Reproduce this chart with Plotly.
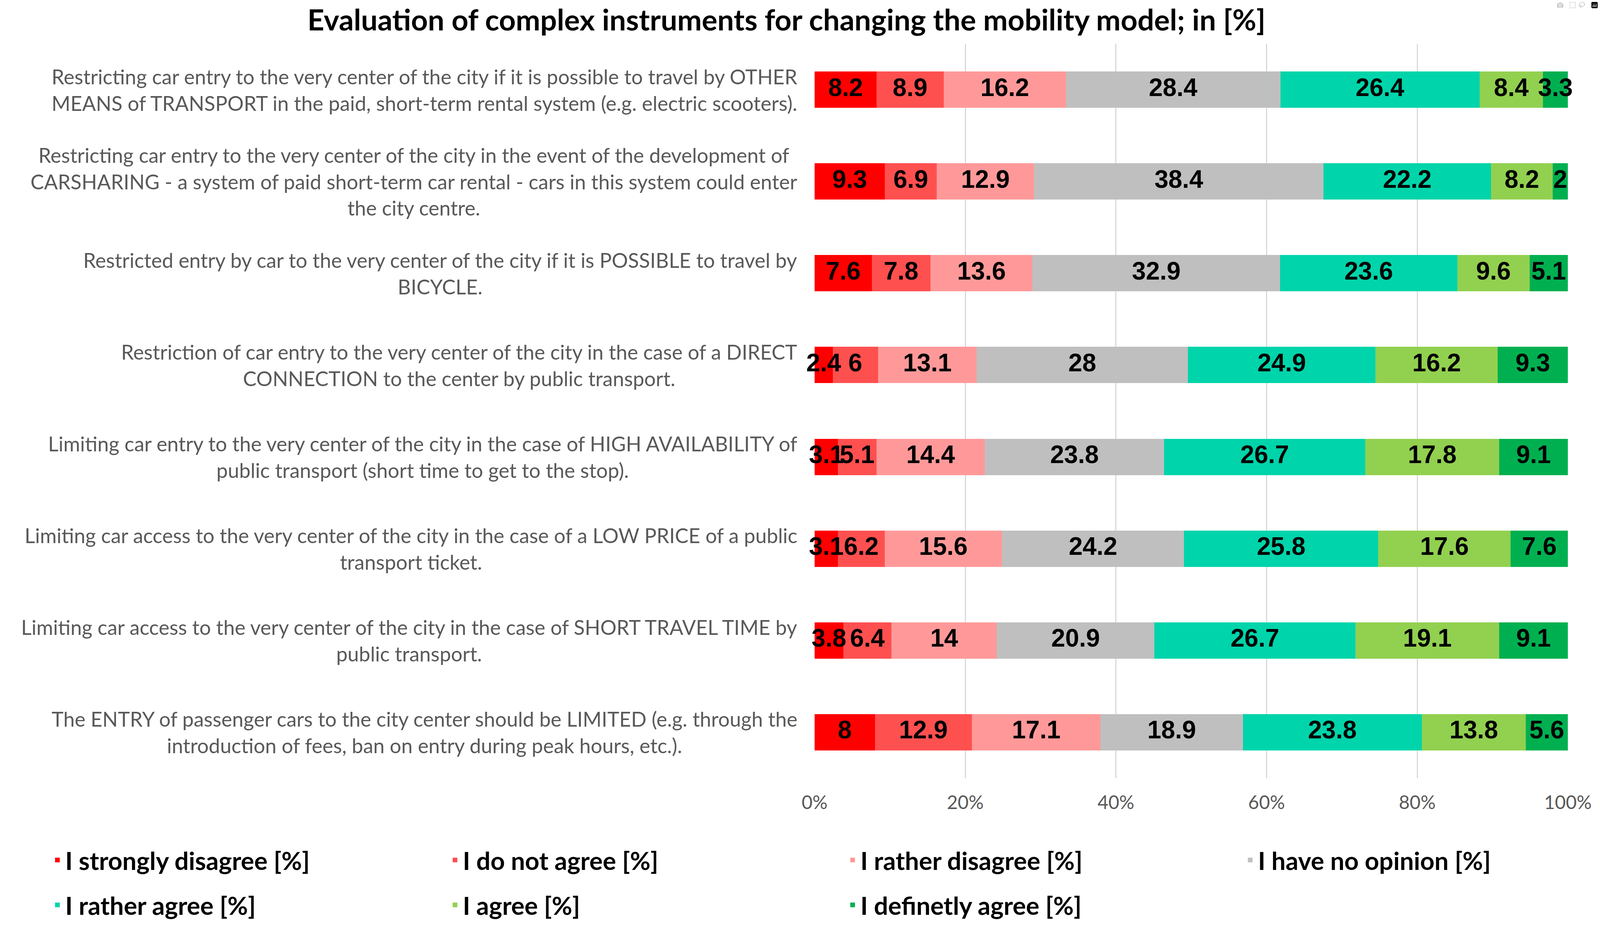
import plotly.graph_objects as go

categories = [
    "Restricting car entry to the very center of the city if it is possible to travel by OTHER<br>MEANS of TRANSPORT in the paid, short-term rental system (e.g. electric scooters).",
    "Restricting car entry to the very center of the city in the event of the development of<br>CARSHARING - a system of paid short-term car rental - cars in this system could enter<br>the city centre.",
    "Restricted entry by car to the very center of the city if it is POSSIBLE to travel by<br>BICYCLE.",
    "Restriction of car entry to the very center of the city in the case of a DIRECT<br>CONNECTION to the center by public transport.",
    "Limiting car entry to the very center of the city in the case of HIGH AVAILABILITY of<br>public transport (short time to get to the stop).",
    "Limiting car access to the very center of the city in the case of a LOW PRICE of a public<br>transport ticket.",
    "Limiting car access to the very center of the city in the case of SHORT TRAVEL TIME by<br>public transport.",
    "The ENTRY of passenger cars to the city center should be LIMITED (e.g. through the<br>introduction of fees, ban on entry during peak hours, etc.).",
]

series_names = [
    "I strongly disagree [%]",
    "I do not agree [%]",
    "I rather disagree [%]",
    "I have no opinion [%]",
    "I rather agree [%]",
    "I agree [%]",
    "I definetly agree [%]",
]

strongly_disagree = [8.2, 9.3, 7.6, 2.4, 3.1, 3.1, 3.8, 8]
do_not_agree = [8.9, 6.9, 7.8, 6, 5.1, 6.2, 6.4, 12.9]
rather_disagree = [16.2, 12.9, 13.6, 13.1, 14.4, 15.6, 14, 17.1]
no_opinion = [28.4, 38.4, 32.9, 28, 23.8, 24.2, 20.9, 18.9]
rather_agree = [26.4, 22.2, 23.6, 24.9, 26.7, 25.8, 26.7, 23.8]
agree = [8.4, 8.2, 9.6, 16.2, 17.8, 17.6, 19.1, 13.8]
definitely_agree = [3.3, 2, 5.1, 9.3, 9.1, 7.6, 9.1, 5.6]

series_values = [strongly_disagree, do_not_agree, rather_disagree, no_opinion,
                 rather_agree, agree, definitely_agree]

colors = ["#FF0000", "#FF5050", "#FF9999", "#BFBFBF", "#00D4AA", "#92D050", "#00B050"]

tick_vals = [0, 20, 40, 60, 80, 100]
tick_labels = ["0%", "20%", "40%", "60%", "80%", "100%"]

# reference proportions (based on a 4380 x 2369 canvas)
W, H = 4380, 2369

fig = go.Figure()
for i, (name, vals, col) in enumerate(zip(series_names, series_values, colors)):
    fig.add_trace(go.Bar(
        y=categories,
        x=vals,
        name=name,
        orientation="h",
        marker=dict(color=col, line=dict(width=0)),
        legend="legend" if i < 4 else "legend2",
        hoverinfo="skip",
    ))

# data labels drawn on top of all bars (like Excel), centred in each 100%-normalised segment
totals = [sum(row) for row in zip(*series_values)]
label_x, label_y, label_t = [], [], []
for j, cat in enumerate(categories):
    cum = 0.0
    for vals in series_values:
        v = vals[j]
        label_x.append((cum + v / 2) / totals[j] * 100)
        label_y.append(cat)
        label_t.append(str(v))
        cum += v
fig.add_trace(go.Scatter(
    x=label_x, y=label_y, text=label_t,
    mode="text", textposition="middle center",
    textfont=dict(family="Liberation Sans", size=64, color="black", weight="bold"),
    showlegend=False, cliponaxis=False, hoverinfo="skip",
))

for cat in categories:
    fig.add_annotation(
        x=2185 / W, xref="paper", xanchor="right",
        y=cat, yref="y", yanchor="middle",
        text=cat, showarrow=False, align="center",
        font=dict(family="Lato", size=52, color="#595959"),
    )

legend_common = dict(
    orientation="h",
    xanchor="left",
    yanchor="middle",
    x=0.031,
    entrywidth=0.2485,
    entrywidthmode="fraction",
    font=dict(family="Lato", size=64, color="black", weight="bold"),
    bgcolor="rgba(0,0,0,0)",
    traceorder="normal",
)

fig.update_layout(
    autosize=True,
    margin=dict(l=0, r=0, t=0, b=0, autoexpand=False),
    paper_bgcolor="white",
    plot_bgcolor="white",
    barmode="stack",
    barnorm="percent",
    bargap=0.604,
    title=dict(
        text="<b>Evaluation of complex instruments for changing the mobility model; in [%]</b>",
        x=2153 / W, xanchor="center", xref="paper",
        y=1 - 52 / H, yanchor="middle", yref="container",
        font=dict(family="Lato", size=75, color="black"),
    ),
    xaxis=dict(
        domain=[2230 / W, 4292 / W],
        range=[0, 100],
        tickvals=tick_vals,
        ticktext=tick_labels,
        tickfont=dict(family="Lato", size=48, color="#595959"),
        showgrid=True,
        gridcolor="#D9D9D9",
        gridwidth=3,
        zeroline=False,
        showline=False,
        ticks="",
        ticklabelstandoff=30,
        fixedrange=True,
    ),
    yaxis=dict(
        domain=[1 - 1993 / H, 1 - 112 / H],
        autorange="reversed",
        showticklabels=False,
        showgrid=False,
        zeroline=False,
        showline=False,
        ticks="",
        fixedrange=True,
    ),
    legend=dict(legend_common, y=1 - 2203 / H),
    legend2=dict(legend_common, y=1 - 2318 / H),
    showlegend=True,
)

fig.write_html(
    "out.html",
    default_width="100vw",
    default_height="100vh",
    config={"responsive": True},
    post_script=(
        "document.body.style.margin='0';"
        "document.body.style.overflow='hidden';"
        "Plotly.Plots.resize(document.getElementById('{plot_id}'));"
    ),
)
